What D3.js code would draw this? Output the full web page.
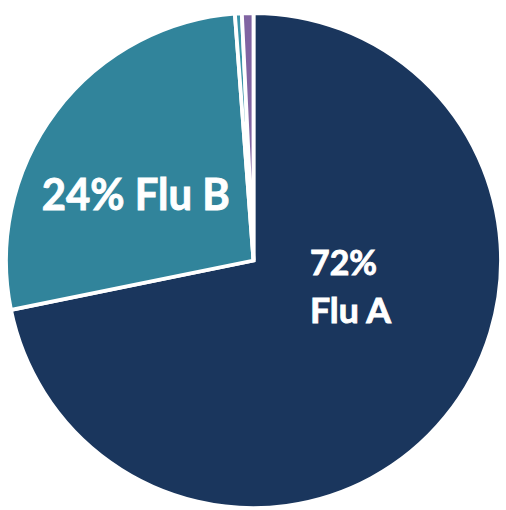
<!DOCTYPE html>
<html>
<head>
<meta charset="utf-8">
<script src="https://cdn.jsdelivr.net/npm/d3@7"></script>
<style>
  html, body { margin: 0; padding: 0; background: #ffffff; }
  svg { display: block; }
</style>
</head>
<body>
<svg id="chart" width="506" height="510"></svg>
<script>
const categories = ["Flu A", "Flu B", "Flu A & B", "Not typed"];
const values = [71.8, 27.0, 0.45, 0.75];
const colors = ["#1a365d", "#31849b", "#3a93a8", "#8064a2"];
const labelLines = [["72%", "Flu A"], ["24% Flu B"], [], []];

const data = categories.map((c, i) => ({ category: c, value: values[i], color: colors[i], lines: labelLines[i] }));

const svg = d3.select("#chart");
const cx = 253.5, cy = 260.5, R = 247.5;
const g = svg.append("g").attr("transform", `translate(${cx},${cy})`);

const pie = d3.pie().sort(null).value(d => d.value).startAngle(0).endAngle(2 * Math.PI);
const arc = d3.arc().innerRadius(0).outerRadius(R);
const arcs = pie(data);

g.selectAll("path.slice")
  .data(arcs)
  .join("path")
  .attr("class", "slice")
  .attr("d", arc)
  .attr("fill", d => d.data.color)
  .attr("stroke", "#ffffff")
  .attr("stroke-width", 3.8)
  .attr("stroke-linejoin", "miter");

// label placement (relative to chart centre)
const labelSpecs = {
  "Flu A": { x: 310 - cx, y: 275 - cy, size: 35, lh: 48, widths: [67, 81] },
  "Flu B": { x: 41.7 - cx, y: 210 - cy, size: 43, lh: 0, widths: [188] }
};

arcs.forEach(a => {
  const spec = labelSpecs[a.data.category];
  if (!spec) return;
  a.data.lines.forEach((line, j) => {
    g.append("text")
      .attr("x", spec.x)
      .attr("y", spec.y + j * spec.lh)
      .attr("fill", "#ffffff")
      .attr("stroke", "#ffffff")
      .attr("stroke-width", 0.9)
      .attr("font-family", "Lato, 'Open Sans', sans-serif")
      .attr("font-weight", "bold")
      .attr("font-size", spec.size)
      .attr("textLength", spec.widths[j])
      .attr("lengthAdjust", "spacingAndGlyphs")
      .text(line);
  });
});
</script>
</body>
</html>
